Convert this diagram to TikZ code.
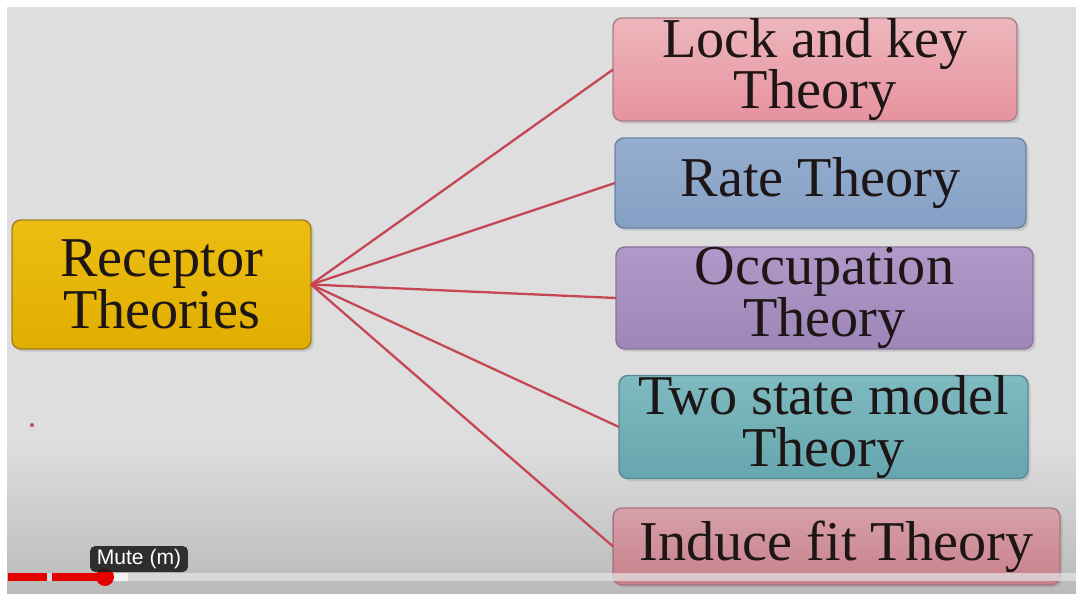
\documentclass[tikz,border=0pt]{standalone}
\usepackage{fontspec}
\setmainfont{Liberation Serif}
\newfontfamily\uifont{Liberation Sans}
\usetikzlibrary{positioning, shadows}

\definecolor{slidebg}{HTML}{DEDEDE}
\definecolor{linkred}{HTML}{C54655}
\definecolor{inkdark}{HTML}{1E1616}

\begin{document}
\begin{tikzpicture}[
    x=0.02cm, y=-0.02cm,
    block/.style={rectangle, draw, rounded corners=5pt, inner sep=0pt, outer sep=0pt, align=center,
        text=inkdark, font=\fontsize{32}{29.5}\selectfont, line width=0.8pt,
        drop shadow={opacity=0.25, shadow xshift=1.5pt, shadow yshift=-1.5pt}},
    line/.style={draw=linkred, line width=1.3pt}
]
    % Slide background
    \useasboundingbox (0,0) rectangle (1076,593);
    \fill[white] (0,0) rectangle (1076,593);
    \fill[slidebg] (7,7) rectangle (1076,593);
    \shade[top color=slidebg, bottom color=black!27] (7,440) rectangle (1076,593);
    \fill[linkred] (32,425) circle (2);

    % Nodes
    \node [block, minimum width=5.98cm, minimum height=2.58cm, top color={rgb,255:red,236;green,189;blue,18}, bottom color={rgb,255:red,224;green,174;blue,0}, draw={rgb,255:red,160;green,128;blue,30}] (root) at (161.5,284.5) {Receptor\\Theories};
    \node [block, minimum width=8.08cm, minimum height=2.02cm, top color={rgb,255:red,237;green,182;blue,188}, bottom color={rgb,255:red,230;green,146;blue,158}, draw={rgb,255:red,170;green,128;blue,134}] (lock) at (815,69.5) {Lock and key\\Theory};
    \node [block, minimum width=8.22cm, minimum height=1.80cm, top color={rgb,255:red,150;green,174;blue,207}, bottom color={rgb,255:red,132;green,160;blue,196}, draw={rgb,255:red,108;green,130;blue,162}] (rate) at (820.5,183) {Rate Theory};
    \node [block, minimum width=8.34cm, minimum height=2.04cm, top color={rgb,255:red,176;green,152;blue,200}, bottom color={rgb,255:red,158;green,134;blue,184}, draw={rgb,255:red,134;green,116;blue,156}] (occ) at (824.5,298) {Occupation\\Theory};
    \node [block, minimum width=8.18cm, minimum height=2.04cm, top color={rgb,255:red,126;green,186;blue,192}, bottom color={rgb,255:red,102;green,166;blue,174}, draw={rgb,255:red,88;green,138;blue,146}] (twostate) at (823.5,427) {Two state model\\Theory};
    \node [block, minimum width=8.94cm, minimum height=1.54cm, top color={rgb,255:red,214;green,160;blue,168}, bottom color={rgb,255:red,200;green,128;blue,140}, draw={rgb,255:red,164;green,118;blue,126}] (induce) at (836.5,546.5) {Induce fit Theory};

    % Edges
    \path [line] (root.east) -- (lock.west);
    \path [line] (root.east) -- (rate.west);
    \path [line] (root.east) -- (occ.west);
    \path [line] (root.east) -- (twostate.west);
    \path [line] (root.east) -- (induce.west);

    % Player bar
    \draw [line width=4pt, white!80!gray, opacity=0.7] (8,577) -- (1076,577);
    \draw [line width=4pt, white!90!gray] (105,577) -- (128,577);
    \draw [line width=4pt, red!90!black] (8,577) -- (47,577);
    \draw [line width=4pt, red!90!black] (52,577) -- (105,577);
    \fill [red!90!black] (105,577) circle (9);
    \node [fill=black!88, opacity=0.9, text opacity=1, text=white, rounded corners=3pt, minimum width=1.96cm, minimum height=0.52cm, inner sep=0pt, font=\uifont\fontsize{12}{14}\selectfont] (mute) at (139,559) {Mute (m)};
\end{tikzpicture}
\end{document}
